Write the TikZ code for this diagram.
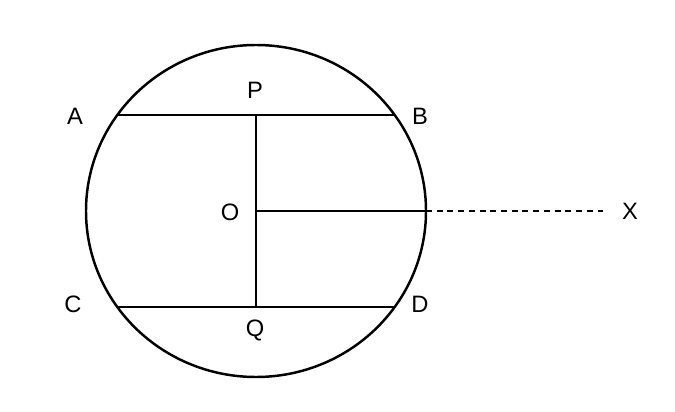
\documentclass[tikz,border=0pt]{standalone}
\usepackage{fontspec}
\setmainfont{Liberation Sans}
\begin{document}
\begin{tikzpicture}[line width=1.4pt, font=\fontsize{13.5}{16}\selectfont]
	\useasboundingbox (0, 0) rectangle (13.5, 8.22);
	\draw (5.12, 4) ellipse [x radius=3.4, y radius=3.32];

	\coordinate (O) at (5.12, 4);
	\coordinate (A) at (2.346, 5.92);
	\coordinate (B) at (7.894, 5.92);
	\coordinate (C) at (2.346, 2.08);
	\coordinate (D) at (7.894, 2.08);
	\coordinate (P) at (5.12, 5.92);
	\coordinate (Q) at (5.12, 2.08);
	\coordinate (R) at (8.52, 4);
	\coordinate (E) at (12.1, 4);

	\draw (A) -- (B);
	\draw (C) -- (D);
	\draw (P) -- (Q);
	\draw (O) -- (R);
	\draw[dash pattern=on 3.4pt off 2.7pt] (R) -- (E);

	\node (labA) at (1.5, 5.9) {A};
	\node (labB) at (8.4, 5.9) {B};
	\node (labC) at (1.46, 2.14) {C};
	\node (labD) at (8.4, 2.14) {D};
	\node (labP) at (5.1, 6.42) {P};
	\node (labQ) at (5.1, 1.62) {Q};
	\node (labO) at (4.6, 3.98) {O};
	\node (X) at (12.6, 4) {X};

\end{tikzpicture}
\end{document}
